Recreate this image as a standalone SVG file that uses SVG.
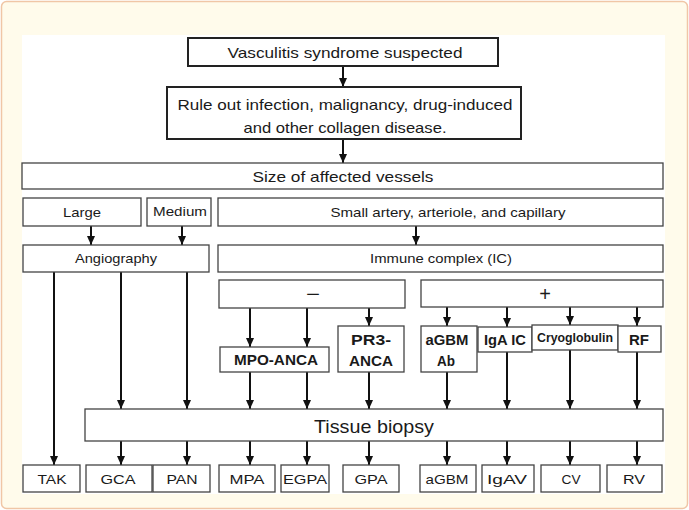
<svg xmlns="http://www.w3.org/2000/svg" width="689" height="510" viewBox="0 0 689 510">
<defs>
<marker id="ah" markerUnits="userSpaceOnUse" markerWidth="9" markerHeight="8" viewBox="0 0 9 8" refX="9" refY="4" orient="auto">
<path d="M0,0 L9,4 L0,8 Z" fill="#111"/>
</marker>
<style>
.bx{fill:#fff;stroke:#444;stroke-width:1.3}
.bk{fill:#fff;stroke:#222;stroke-width:2}
text{font-family:"Liberation Sans",Arial,sans-serif;fill:#1a1a1a;text-anchor:middle;dominant-baseline:central}
.t15{font-size:15px}
.t13{font-size:13px}
.b{font-weight:bold;font-size:14px}
.c line{stroke:#111;stroke-width:2}
.a{marker-end:url(#ah)}
</style>
</defs>
<rect x="1.5" y="1.5" width="686" height="507" rx="5" fill="#fffbeb" stroke="#f0c6a6" stroke-width="1.5"/>
<rect x="22" y="35" width="643" height="459" fill="#fff"/>

<g class="c">
<line class="a" x1="343" y1="66" x2="343" y2="87"/>
<line class="a" x1="343" y1="139" x2="343" y2="163"/>
<line class="a" x1="91" y1="226" x2="91" y2="245"/>
<line class="a" x1="182" y1="226" x2="182" y2="245"/>
<line class="a" x1="416" y1="226" x2="416" y2="245"/>
<line class="a" x1="54" y1="272" x2="54" y2="465"/>
<line class="a" x1="121" y1="272" x2="121" y2="409"/>
<line class="a" x1="187" y1="272" x2="187" y2="409"/>
<line class="a" x1="250" y1="308" x2="250" y2="347"/>
<line class="a" x1="307" y1="308" x2="307" y2="347"/>
<line class="a" x1="369" y1="308" x2="369" y2="326"/>
<line class="a" x1="447" y1="307" x2="447" y2="326"/>
<line class="a" x1="507" y1="307" x2="507" y2="327"/>
<line class="a" x1="570" y1="307" x2="570" y2="325"/>
<line class="a" x1="637" y1="307" x2="637" y2="326"/>
<line class="a" x1="250" y1="372" x2="250" y2="409"/>
<line class="a" x1="307" y1="372" x2="307" y2="409"/>
<line class="a" x1="369" y1="372" x2="369" y2="409"/>
<line class="a" x1="447" y1="372" x2="447" y2="409"/>
<line class="a" x1="507" y1="352" x2="507" y2="409"/>
<line class="a" x1="570" y1="350" x2="570" y2="409"/>
<line class="a" x1="637" y1="352" x2="637" y2="409"/>
<line class="a" x1="121" y1="441" x2="121" y2="465"/>
<line class="a" x1="187" y1="441" x2="187" y2="465"/>
<line class="a" x1="250" y1="441" x2="250" y2="465"/>
<line class="a" x1="307" y1="441" x2="307" y2="465"/>
<line class="a" x1="369" y1="441" x2="369" y2="465"/>
<line class="a" x1="447" y1="441" x2="447" y2="465"/>
<line class="a" x1="507" y1="441" x2="507" y2="465"/>
<line class="a" x1="570" y1="441" x2="570" y2="465"/>
<line class="a" x1="637" y1="441" x2="637" y2="465"/>
</g>

<g id="n-suspected"><rect class="bk" x="188" y="38" width="310" height="28"/><text class="t15" x="345" y="52" textLength="235" lengthAdjust="spacingAndGlyphs">Vasculitis syndrome suspected</text></g>
<g id="n-ruleout"><rect class="bk" x="167" y="87" width="354" height="52"/><text class="t15" x="345" y="104" textLength="335" lengthAdjust="spacingAndGlyphs">Rule out infection, malignancy, drug-induced</text><text class="t15" x="345" y="127" textLength="203" lengthAdjust="spacingAndGlyphs">and other collagen disease.</text></g>
<g id="n-size"><rect class="bx" x="22" y="163" width="641" height="26"/><text class="t15" x="343" y="176" textLength="181" lengthAdjust="spacingAndGlyphs">Size of affected vessels</text></g>
<g id="n-large"><rect class="bx" x="23" y="198" width="118" height="28"/><text class="t13" x="82" y="212" textLength="38" lengthAdjust="spacingAndGlyphs">Large</text></g>
<g id="n-medium"><rect class="bx" x="147" y="198" width="64" height="28"/><text class="t13" x="180" y="211" textLength="54" lengthAdjust="spacingAndGlyphs">Medium</text></g>
<g id="n-small"><rect class="bx" x="218" y="198" width="445" height="28"/><text class="t13" x="448" y="212" textLength="235" lengthAdjust="spacingAndGlyphs">Small artery, arteriole, and capillary</text></g>
<g id="n-angio"><rect class="bx" x="23" y="245" width="186" height="27"/><text class="t13" x="116" y="258" textLength="82" lengthAdjust="spacingAndGlyphs">Angiography</text></g>
<g id="n-ic"><rect class="bx" x="218" y="245" width="445" height="27"/><text class="t13" x="441" y="258" textLength="142" lengthAdjust="spacingAndGlyphs">Immune complex (IC)</text></g>
<g id="n-neg"><rect class="bx" x="219" y="280" width="186" height="28"/><text x="313" y="294" style="font-size:20px" textLength="14" lengthAdjust="spacingAndGlyphs">−</text></g>
<g id="n-pos"><rect class="bx" x="421" y="280" width="242" height="27"/><text x="545" y="294" style="font-size:20px">+</text></g>
<g id="n-mpoanca"><rect class="bx" x="220" y="347" width="109" height="25"/><text class="b" x="276" y="360" textLength="84" lengthAdjust="spacingAndGlyphs">MPO-ANCA</text></g>
<g id="n-pr3anca"><rect class="bx" x="338" y="326" width="66" height="46"/><text class="b" x="371" y="340" textLength="40" lengthAdjust="spacingAndGlyphs">PR3-</text><text class="b" x="371" y="361" textLength="44" lengthAdjust="spacingAndGlyphs">ANCA</text></g>
<g id="n-agbmab"><rect class="bx" x="421" y="326" width="56" height="46"/><text class="b" x="447" y="340" textLength="43" lengthAdjust="spacingAndGlyphs">aGBM</text><text class="b" x="446" y="361" textLength="18" lengthAdjust="spacingAndGlyphs">Ab</text></g>
<g id="n-igaic"><rect class="bx" x="478" y="327" width="54" height="25"/><text class="b" x="505" y="340" textLength="42" lengthAdjust="spacingAndGlyphs">IgA IC</text></g>
<g id="n-cryo"><rect class="bx" x="532" y="325" width="86" height="25"/><text class="b" x="575" y="338" style="font-size:12.5px" textLength="76" lengthAdjust="spacingAndGlyphs">Cryoglobulin</text></g>
<g id="n-rf"><rect class="bx" x="618" y="326" width="43" height="26"/><text class="b" x="639" y="340" textLength="20" lengthAdjust="spacingAndGlyphs">RF</text></g>
<g id="n-biopsy"><rect class="bx" x="85" y="409" width="578" height="32"/><text x="374" y="426" style="font-size:19px" textLength="120" lengthAdjust="spacingAndGlyphs">Tissue biopsy</text></g>
<g id="n-tak"><rect class="bx" x="23" y="465" width="57" height="27"/><text class="t13" x="52" y="479" textLength="29" lengthAdjust="spacingAndGlyphs">TAK</text></g>
<g id="n-gca"><rect class="bx" x="86" y="465" width="66" height="27"/><text class="t13" x="118" y="479" textLength="35" lengthAdjust="spacingAndGlyphs">GCA</text></g>
<g id="n-pan"><rect class="bx" x="153" y="465" width="57" height="27"/><text class="t13" x="182" y="479" textLength="31" lengthAdjust="spacingAndGlyphs">PAN</text></g>
<g id="n-mpa"><rect class="bx" x="219" y="465" width="56" height="27"/><text class="t13" x="247" y="479" textLength="35" lengthAdjust="spacingAndGlyphs">MPA</text></g>
<g id="n-egpa"><rect class="bx" x="281" y="465" width="48" height="27"/><text class="t13" x="305" y="479" textLength="44" lengthAdjust="spacingAndGlyphs">EGPA</text></g>
<g id="n-gpa"><rect class="bx" x="343" y="465" width="56" height="27"/><text class="t13" x="371" y="479" textLength="33" lengthAdjust="spacingAndGlyphs">GPA</text></g>
<g id="n-agbm"><rect class="bx" x="420" y="465" width="56" height="27"/><text class="t13" x="447" y="479" textLength="43" lengthAdjust="spacingAndGlyphs">aGBM</text></g>
<g id="n-igav"><rect class="bx" x="482" y="465" width="52" height="27"/><text class="t13" x="507" y="479" textLength="40" lengthAdjust="spacingAndGlyphs">IgAV</text></g>
<g id="n-cv"><rect class="bx" x="541" y="465" width="59" height="27"/><text class="t13" x="571" y="479" textLength="19" lengthAdjust="spacingAndGlyphs">CV</text></g>
<g id="n-rv"><rect class="bx" x="607" y="465" width="55" height="27"/><text class="t13" x="634" y="479" textLength="22" lengthAdjust="spacingAndGlyphs">RV</text></g>
</svg>
